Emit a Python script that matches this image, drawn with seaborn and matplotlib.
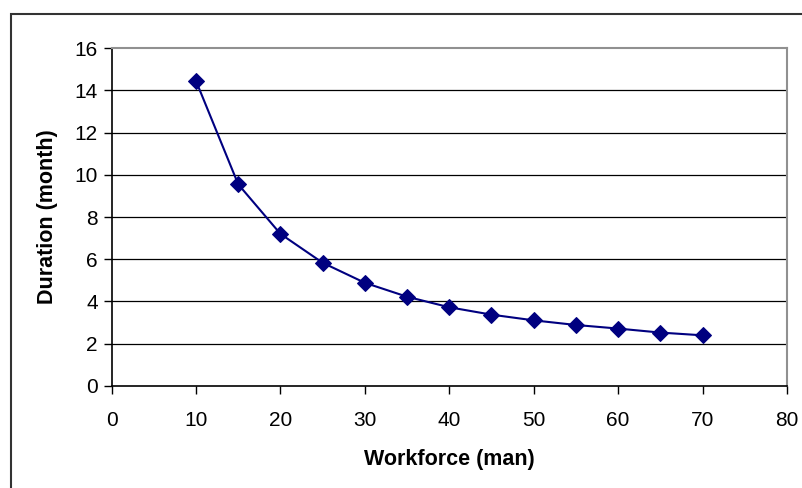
import matplotlib
matplotlib.use("Agg")
import matplotlib.pyplot as plt
import seaborn as sns
import pandas as pd
from matplotlib.patches import Rectangle

workforce = [10, 15, 20, 25, 30, 35, 40, 45, 50, 55, 60, 65, 70]
duration = [14.45, 9.55, 7.2, 5.83, 4.88, 4.22, 3.72, 3.37, 3.1, 2.88, 2.71, 2.52, 2.39]
x_ticks = [0, 10, 20, 30, 40, 50, 60, 70, 80]
y_ticks = [0, 2, 4, 6, 8, 10, 12, 14, 16]

df = pd.DataFrame({"Workforce": workforce, "Duration": duration})

sns.set_style("white")
plt.rcParams['font.family'] = ['Liberation Sans', 'DejaVu Sans']
plt.rcParams['text.color'] = 'black'
plt.rcParams['axes.labelcolor'] = 'black'
plt.rcParams['xtick.color'] = 'black'
plt.rcParams['ytick.color'] = 'black'

fig = plt.figure(figsize=(8.03, 4.88), dpi=100)
ax = fig.add_axes([0.139, 0.2096, 0.841, 0.6914])

# outer chart frame (right/bottom edges fall outside the image)
fig.patches.append(Rectangle((11 / 803, -0.1), 1.2, 1 - 14 / 488 + 0.1,
                             transform=fig.transFigure, fill=False,
                             edgecolor='#333333', linewidth=1.5))

for yv in y_ticks[1:-1]:
    ax.axhline(yv, color='black', linewidth=0.9, zorder=1)

sns.lineplot(data=df, x="Workforce", y="Duration", ax=ax, color='#000080',
             linewidth=1.5, marker='D', markersize=8, markeredgecolor='#000080',
             zorder=3)

ax.set_xlim(0, 80)
ax.set_ylim(0, 16)
ax.set_xticks(x_ticks)
ax.set_yticks(y_ticks)
ax.tick_params(axis='both', direction='out', length=6, width=1, color='black',
               labelcolor='black', labelsize=15, pad=4, left=True, bottom=True)
ax.tick_params(axis='x', pad=12)

for s in ['left', 'bottom']:
    ax.spines[s].set_color('black')
    ax.spines[s].set_linewidth(1.2)
for s in ['top', 'right']:
    ax.spines[s].set_color('#909090')
    ax.spines[s].set_linewidth(1.5)

ax.set_xlabel('Workforce (man)', fontsize=15.5, fontweight='bold', labelpad=14,
              color='black')
ax.set_ylabel('Duration (month)', fontsize=15.5, fontweight='bold', labelpad=12,
              color='black')

fig.savefig("out.png", dpi=100)
